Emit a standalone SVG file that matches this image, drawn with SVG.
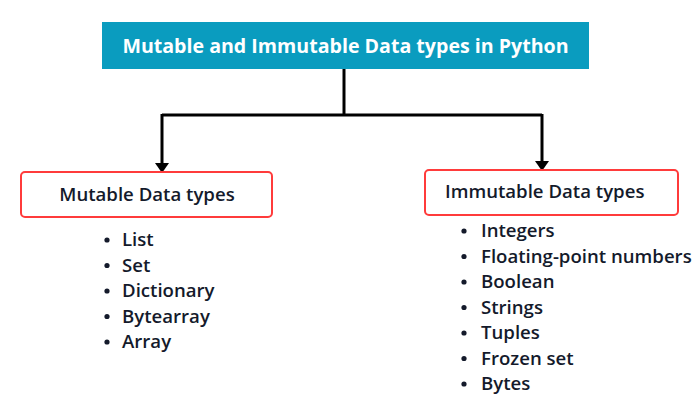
<svg xmlns="http://www.w3.org/2000/svg" width="699" height="400" viewBox="0 0 699 400">
  <style>
    .title { font-family: "Open Sans", "Liberation Sans", sans-serif; font-weight: 700; font-size: 19.6px; fill: #ffffff; }
    .head { font-family: "Open Sans", "Liberation Sans", sans-serif; font-weight: 600; font-size: 18.6px; fill: #141a2b; }
    .item { font-family: "Open Sans", "Liberation Sans", sans-serif; font-weight: 600; font-size: 18.6px; fill: #141a2b; }
    .box { fill: #ffffff; stroke: #ff3b3b; stroke-width: 2; }
    .wire { fill: none; stroke: #000000; stroke-width: 3; }
    .dot { fill: #141a2b; }
  </style>

  <g id="connectors">
    <path class="wire" d="M344,69 V115"/>
    <path class="wire" d="M162,115 H542"/>
    <path class="wire" d="M162,114 V164"/>
    <path class="wire" d="M542,114 V162"/>
    <path d="M155,163 L169,163 L162,173 Z" fill="#000"/>
    <path d="M535,161 L549,161 L542,171 Z" fill="#000"/>
  </g>

  <g id="title">
    <rect x="102" y="22" width="487" height="47" fill="#0a9cbf"/>
    <text class="title" x="345.5" y="53" text-anchor="middle">Mutable and Immutable Data types in Python</text>
  </g>

  <g id="mutable">
    <rect class="box" x="21" y="172" width="251" height="45" rx="4"/>
    <text class="head" x="147" y="201" text-anchor="middle">Mutable Data types</text>
    <g id="mutable-items">
      <circle class="dot" cx="107" cy="240" r="2.6"/><text class="item" x="122" y="246">List</text>
      <circle class="dot" cx="107" cy="265.5" r="2.6"/><text class="item" x="122" y="271.5">Set</text>
      <circle class="dot" cx="107" cy="291" r="2.6"/><text class="item" x="122" y="297">Dictionary</text>
      <circle class="dot" cx="107" cy="316.5" r="2.6"/><text class="item" x="122" y="322.5">Bytearray</text>
      <circle class="dot" cx="107" cy="342" r="2.6"/><text class="item" x="122" y="348">Array</text>
    </g>
  </g>

  <g id="immutable">
    <rect class="box" x="425" y="170" width="253" height="45" rx="4"/>
    <text class="head" x="445" y="198">Immutable Data types</text>
    <g id="immutable-items">
      <circle class="dot" cx="464" cy="231" r="2.6"/><text class="item" x="481" y="237">Integers</text>
      <circle class="dot" cx="464" cy="256.5" r="2.6"/><text class="item" x="481" y="262.5">Floating-point numbers</text>
      <circle class="dot" cx="464" cy="282" r="2.6"/><text class="item" x="481" y="288">Boolean</text>
      <circle class="dot" cx="464" cy="307.5" r="2.6"/><text class="item" x="481" y="313.5">Strings</text>
      <circle class="dot" cx="464" cy="333" r="2.6"/><text class="item" x="481" y="339">Tuples</text>
      <circle class="dot" cx="464" cy="358.5" r="2.6"/><text class="item" x="481" y="364.5">Frozen set</text>
      <circle class="dot" cx="464" cy="384" r="2.6"/><text class="item" x="481" y="390">Bytes</text>
    </g>
  </g>
</svg>
